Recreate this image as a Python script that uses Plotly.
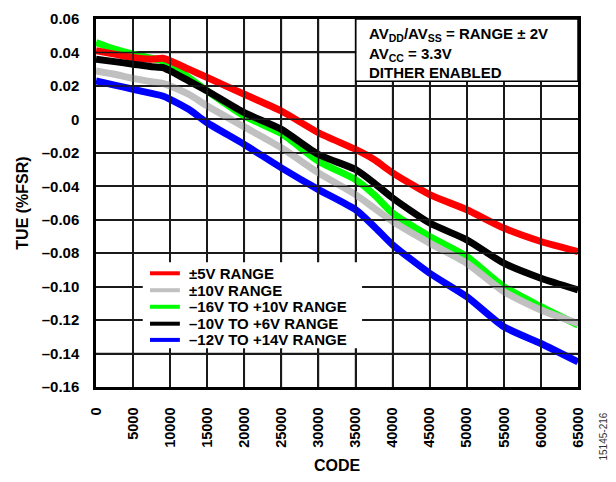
import plotly.graph_objects as go

# ---- data ----
code = [0, 2500, 5000, 7500, 9000, 10000, 12500, 15000, 20000, 25000, 30000,
        35000, 37500, 40000, 45000, 50000, 55000, 60000, 65000]

tue_5v = [0.041, 0.039, 0.037, 0.036, 0.0365, 0.035, 0.030, 0.025, 0.015, 0.005, -0.008,
          -0.018, -0.024, -0.032, -0.045, -0.054, -0.065, -0.073, -0.079]
tue_10v = [0.029, 0.027, 0.0245, 0.0225, 0.0215, 0.020, 0.015, 0.008, -0.0045, -0.017, -0.032,
           -0.045, -0.053, -0.061, -0.074, -0.086, -0.103, -0.114, -0.122]
tue_m16_p10 = [0.046, 0.042, 0.039, 0.0365, 0.035, 0.033, 0.025, 0.017, 0.002, -0.0085, -0.025,
               -0.036, -0.045, -0.056, -0.070, -0.082, -0.100, -0.112, -0.123]
tue_m10_p6 = [0.036, 0.0345, 0.033, 0.0315, 0.031, 0.029, 0.023, 0.017, 0.004, -0.006, -0.021,
              -0.030, -0.038, -0.047, -0.062, -0.072, -0.086, -0.095, -0.102]
tue_m12_p14 = [0.023, 0.0205, 0.018, 0.0155, 0.014, 0.012, 0.006, -0.002, -0.015, -0.029, -0.042,
               -0.054, -0.064, -0.075, -0.092, -0.106, -0.124, -0.134, -0.145]

series_names = ["±5V RANGE", "±10V RANGE", "–16V TO +10V RANGE",
                "–10V TO +6V RANGE", "–12V TO +14V RANGE"]
series_colors = ["#FF0000", "#C0C0C0", "#00FF00", "#000000", "#0000FF"]
series_values = [tue_5v, tue_10v, tue_m16_p10, tue_m10_p6, tue_m12_p14]

x_ticks = list(range(0, 65001, 5000))
x_ticktext = [str(v) for v in x_ticks]
y_ticks = [0.06, 0.04, 0.02, 0, -0.02, -0.04, -0.06, -0.08, -0.10, -0.12, -0.14, -0.16]
y_ticktext = ["0.06", "0.04", "0.02", "0", "–0.02", "–0.04", "–0.06", "–0.08",
              "–0.10", "–0.12", "–0.14", "–0.16"]
x_range = [0, 65000]
y_range = [-0.16, 0.06]

FONT = "Arial, Liberation Sans, sans-serif"
GRID = "#1a1a1a"

fig = go.Figure()

# draw green first so the others overlap it
draw_order = [2, 0, 1, 3, 4]
for i in draw_order:
    fig.add_trace(go.Scatter(
        x=code, y=series_values[i], mode="lines", name=series_names[i],
        line=dict(color=series_colors[i], width=7, shape="spline", smoothing=0.6),
        showlegend=False,
    ))

# grid lines at the tick positions (paper-referenced, placed from the axis ranges)
for xv in x_ticks[1:-1]:
    px = (xv - x_range[0]) / (x_range[1] - x_range[0])
    fig.add_shape(type="line", xref="paper", yref="paper", x0=px, x1=px, y0=0, y1=1,
                  line=dict(color=GRID, width=1.5), layer="above")
for yv in y_ticks[1:-1]:
    py = (yv - y_range[0]) / (y_range[1] - y_range[0])
    fig.add_shape(type="line", xref="paper", yref="paper", x0=0, x1=1, y0=py, y1=py,
                  line=dict(color=GRID, width=1.5), layer="above")

axis_common = dict(
    showline=True, linecolor="#000000", linewidth=2.5, mirror=True,
    showgrid=True, gridcolor=GRID, gridwidth=1.5,
    zeroline=False, ticks="", ticklabeloverflow="allow",
)

fig.update_xaxes(
    range=x_range, tickmode="array", tickvals=x_ticks, ticktext=x_ticktext,
    tickangle=-90, ticklabelstandoff=12,
    tickfont=dict(family=FONT, size=14.5, color="#000000", weight="bold"),
    title=dict(text="CODE", font=dict(family=FONT, size=16, color="#000000", weight="bold"),
               standoff=13),
    **axis_common,
)
fig.update_yaxes(
    range=y_range, tickmode="array", tickvals=y_ticks, ticktext=y_ticktext,
    ticklabelstandoff=11,
    tickfont=dict(family=FONT, size=15, color="#000000", weight="bold"),
    title=dict(text="TUE (%FSR)", font=dict(family=FONT, size=16, color="#000000", weight="bold"),
               standoff=10),
    **axis_common,
)

# condition box (top right) - added after the grid so it covers it
fig.add_shape(type="rect", xref="paper", yref="paper",
              x0=0.539, x1=1.0, y0=0.831, y1=1.0,
              line=dict(color="#000000", width=1.5), fillcolor="#FFFFFF", layer="above")
fig.add_annotation(
    xref="paper", yref="paper", x=0.562, y=0.99, xanchor="left", yanchor="top",
    text="AV<sub>DD</sub>/AV<sub>SS</sub> = RANGE ± 2V<br>AV<sub>CC</sub> = 3.3V<br>DITHER ENABLED",
    showarrow=False, align="left",
    font=dict(family=FONT, size=15, color="#000000", weight="bold"),
)

# legend (white panel, line samples and labels)
fig.add_shape(type="rect", xref="paper", yref="paper",
              x0=0.097, x1=0.552, y0=0.105, y1=0.339,
              line=dict(width=0), fillcolor="#FFFFFF", layer="above")
legend_rows = [0.309, 0.263, 0.218, 0.172, 0.128]
for name, color, yy in zip(series_names, series_colors, legend_rows):
    fig.add_shape(type="line", xref="paper", yref="paper",
                  x0=0.112, x1=0.174, y0=yy, y1=yy,
                  line=dict(color=color, width=4), layer="above")
    fig.add_annotation(
        xref="paper", yref="paper", x=0.188, y=yy, xanchor="left", yanchor="middle",
        text=name, showarrow=False,
        font=dict(family=FONT, size=15, color="#000000", weight="bold"),
    )

fig.add_annotation(
    xref="paper", yref="paper", x=1.052, y=-0.205, xanchor="center", yanchor="bottom",
    text="15145-216", textangle=-90, showarrow=False,
    font=dict(family=FONT, size=10, color="#333333"),
)

fig.update_layout(
    width=600, height=466,
    margin=dict(l=88, r=30, t=2, b=80),
    paper_bgcolor="#FFFFFF", plot_bgcolor="#FFFFFF",
    showlegend=False,
)

fig.write_html("out.html")
